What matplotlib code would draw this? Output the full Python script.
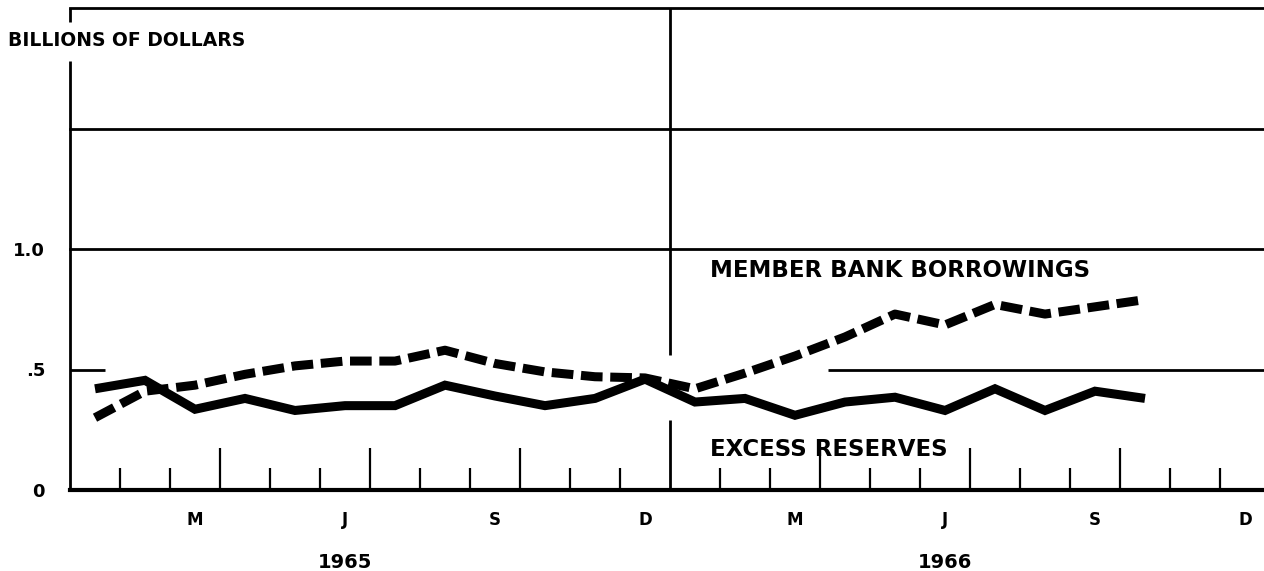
import matplotlib.pyplot as plt
import matplotlib.transforms as mtransforms

# monthly values, billions of dollars, Jan 1965 - Oct 1966
excess_reserves = [0.42, 0.455, 0.335, 0.38, 0.33, 0.35, 0.35, 0.435, 0.39, 0.35, 0.38, 0.46,
                   0.365, 0.38, 0.31, 0.365, 0.385, 0.33, 0.42, 0.33, 0.41, 0.38]
borrowings = [0.30, 0.41, 0.435, 0.48, 0.515, 0.535, 0.535, 0.58, 0.525, 0.49, 0.47, 0.465,
              0.42, 0.485, 0.556, 0.635, 0.73, 0.685, 0.77, 0.73, 0.76, 0.79]
months = [i + 0.5 for i in range(len(excess_reserves))]

month_labels = ['M', 'J', 'S', 'D'] * 2
month_label_pos = [2.5, 5.5, 8.5, 11.5, 14.5, 17.5, 20.5, 23.5]
years = ['1965', '1966']
year_pos = [5.5, 17.5]
ytick_vals = [0, 0.5, 1.0]
ytick_labels = ['0', '.5', '1.0']

plt.rcParams['font.family'] = 'DejaVu Sans'
plt.rcParams['font.weight'] = 'bold'

fig = plt.figure(figsize=(12.64, 5.71), dpi=100)
ax = fig.add_axes([70 / 1264, 81 / 571, 1200 / 1264, 482 / 571])
ax.set_xlim(0, 24)
ax.set_ylim(0, 2.0)

for s in ['top', 'right', 'left']:
    ax.spines[s].set_visible(False)
ax.spines['bottom'].set_linewidth(3)

# frame pieces and grid
k = dict(color='k', lw=2, clip_on=False)
ax.axhline(1.5, **k)
ax.axhline(1.0, **k)
ax.axhline(2.0, **k)
ax.hlines(0.5, 0, 0.7, **k)
ax.hlines(0.5, 15.16, 24, **k)
ax.vlines(0, 0, 1.78, **k)
ax.vlines(0, 1.94, 2.0, **k)
ax.vlines(12, 0.56, 2.0, **k)
ax.vlines(12, 0, 0.29, **k)

# data
ax.plot(months, excess_reserves, color='k', lw=6.5, solid_joinstyle='miter',
        solid_capstyle='butt', zorder=3)
ax.plot(months, borrowings, color='k', lw=6.5, dashes=(2.4, 0.85),
        dash_capstyle='butt', zorder=3)

# ticks at month boundaries
major = [3, 6, 9, 15, 18, 21]
minor = [m for m in range(1, 24) if m not in major and m != 12]
ax.set_xticks(major)
ax.set_xticks(minor, minor=True)
ax.tick_params(axis='x', which='major', direction='in', length=30, width=1.6,
               labelbottom=False)
ax.tick_params(axis='x', which='minor', direction='in', length=16, width=1.6)

ax.set_yticks(ytick_vals)
ax.set_yticklabels(ytick_labels, fontsize=13, fontweight='bold')
ax.tick_params(axis='y', length=0, pad=18)

trans = mtransforms.blended_transform_factory(ax.transData, ax.transAxes)
for lab, x in zip(month_labels, month_label_pos):
    ax.text(x, -0.062, lab, transform=trans, ha='center', va='center',
            fontsize=12, fontweight='bold', clip_on=False)
for lab, x in zip(years, year_pos):
    ax.text(x, -0.15, lab, transform=trans, ha='center', va='center',
            fontsize=14, fontweight='bold', clip_on=False)

ax.text(12.8, 0.91, 'MEMBER BANK BORROWINGS', ha='left', va='center',
        fontsize=16.5, fontweight='bold')
ax.text(12.8, 0.166, 'EXCESS RESERVES', ha='left', va='center',
        fontsize=16.5, fontweight='bold')
fig.text(8 / 1264, 1 - 41 / 571, 'BILLIONS OF DOLLARS', ha='left', va='center',
         fontsize=13.5, fontweight='bold')

fig.savefig('out.png', dpi=100)
